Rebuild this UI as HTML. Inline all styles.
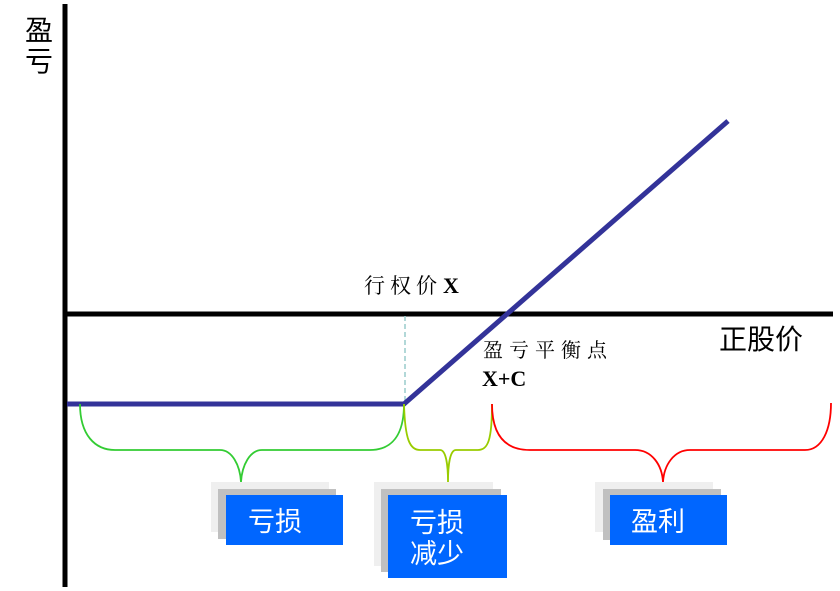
<!DOCTYPE html>
<html><head><meta charset="utf-8"><style>
html,body{margin:0;padding:0;background:#fff;width:840px;height:591px;overflow:hidden}
svg text{font-family:"Liberation Serif","Noto Serif CJK SC","Noto Sans CJK SC",serif}
.w{font-family:"Liberation Sans","Noto Sans CJK SC",sans-serif;fill:#fff;font-size:27px}
</style></head><body>
<svg width="840" height="591" viewBox="0 0 840 591" xmlns="http://www.w3.org/2000/svg">
<text x="25" y="40" font-size="28" fill="#000" style="font-family:'Noto Sans CJK SC',sans-serif">盈</text>
<text x="25" y="71" font-size="28" fill="#000" style="font-family:'Noto Sans CJK SC',sans-serif">亏</text>
<line x1="65" y1="4" x2="65" y2="587" stroke="#000" stroke-width="5"/>
<line x1="63" y1="314" x2="833" y2="314" stroke="#000" stroke-width="5"/>
<text x="719" y="349" font-size="28" style="font-family:'Noto Sans CJK SC',sans-serif">正股价</text>
<line x1="405" y1="316" x2="405" y2="402" stroke="#9cc" stroke-width="1.5" stroke-dasharray="5,3"/>
<polyline points="67,404 404,404 728,121" fill="none" stroke="#333399" stroke-width="5"/>
<text x="364" y="293" font-size="21" letter-spacing="5">行权价</text>
<text x="443" y="293" font-size="22" font-weight="bold">X</text>
<text x="483" y="357" font-size="20" letter-spacing="6">盈亏平衡点</text>
<text x="482" y="386" font-size="22" font-weight="bold">X+C</text>
<path d="M80,404 C80,435 95,450 115,450 L220,450 C232,450 240,465 241,482 C242,465 250,450 262,450 L370,450 C392,450 404,435 404,404" fill="none" stroke="#33cc33" stroke-width="1.8"/>
<path d="M404,404 C405,440 410,450 420,450 L440,450 C446,450 448,465 448,482 C448,465 450,450 456,450 L478,450 C488,450 492,440 492,404" fill="none" stroke="#99cc00" stroke-width="1.8"/>
<path d="M492,404 C492,435 505,450 530,450 L635,450 C652,450 662,465 663,482 C664,465 674,450 690,450 L805,450 C822,450 831,430 831,403" fill="none" stroke="#ff0000" stroke-width="1.8"/>
<rect x="211" y="482" width="118" height="50" fill="#efefef"/>
<rect x="218" y="489" width="118" height="50" fill="#c0c0c0"/>
<rect x="226" y="495" width="117" height="50" fill="#0066ff"/>
<text x="248" y="531" class="w">亏损</text>
<rect x="374" y="482" width="119" height="84" fill="#efefef"/>
<rect x="381" y="489" width="120" height="83" fill="#c0c0c0"/>
<rect x="388" y="495" width="119" height="83" fill="#0066ff"/>
<text x="410" y="532" class="w">亏损</text>
<text x="410" y="563" class="w">减少</text>
<rect x="595" y="482" width="118" height="50" fill="#efefef"/>
<rect x="603" y="489" width="118" height="51" fill="#c0c0c0"/>
<rect x="610" y="495" width="117" height="50" fill="#0066ff"/>
<text x="631" y="531" class="w">盈利</text>
</svg>
</body></html>
